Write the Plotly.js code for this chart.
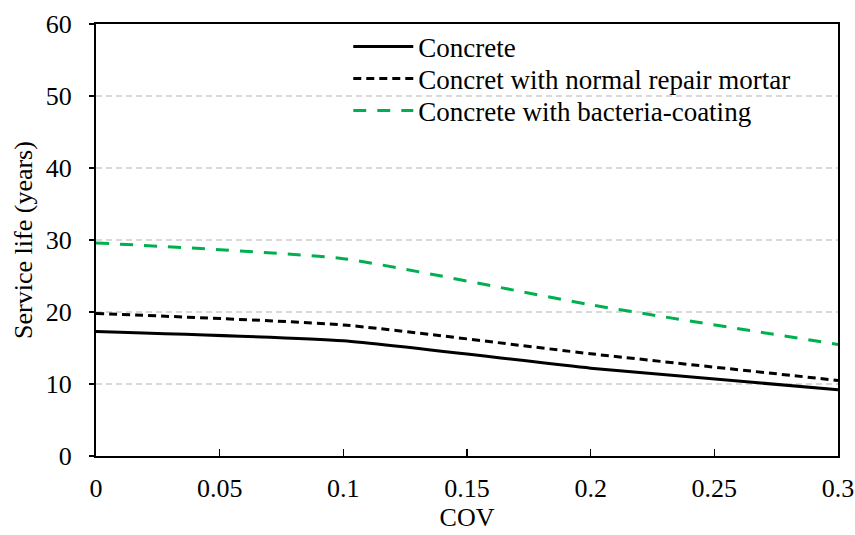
<!DOCTYPE html>
<html>
<head>
<meta charset="utf-8">
<script src="https://cdn.plot.ly/plotly-3.0.1.min.js"></script>
<style>html,body{margin:0;padding:0;background:#fff;}#chart{width:855px;height:535px;}</style>
</head>
<body>
<div id="chart"></div>
<script>
const cov = [0, 0.1, 0.2, 0.3];
const concrete = [17.3, 16.0, 12.2, 9.2];
const normalRepair = [19.8, 18.2, 14.2, 10.5];
const bacteriaCoating = [29.6, 27.4, 21.0, 15.5];
const seriesNames = ["Concrete", "Concret with normal repair mortar", "Concrete with bacteria-coating"];

const font = "'Liberation Serif', 'Times New Roman', serif";
const traces = [
  {x: cov, y: concrete, name: seriesNames[0], mode: "lines", legend: "legend",
   line: {color: "#000000", width: 3, shape: "spline", smoothing: 0.5}},
  {x: cov, y: normalRepair, name: seriesNames[1], mode: "lines", legend: "legend2",
   line: {color: "#000000", width: 3, dash: "8px,5px", shape: "spline", smoothing: 0.5}},
  {x: cov, y: bacteriaCoating, name: seriesNames[2], mode: "lines", legend: "legend3",
   line: {color: "#00B050", width: 3, dash: "13px,11px", shape: "spline", smoothing: 0.5}}
];
function leg(y) {
  return {x: 0.34, y: y, xanchor: "left", yanchor: "middle", bgcolor: "rgba(0,0,0,0)",
          font: {family: font, size: 27, color: "#000"}, itemwidth: 60};
}
const layout = {
  width: 855, height: 535,
  margin: {l: 96, r: 17, t: 24, b: 79},
  paper_bgcolor: "#fff", plot_bgcolor: "#fff",
  font: {family: font, size: 26, color: "#000"},
  showlegend: true,
  legend: leg(0.9468),
  legend2: leg(0.8727),
  legend3: leg(0.7986),
  xaxis: {
    range: [0, 0.3], dtick: 0.05, tick0: 0,
    showline: true, linecolor: "#000", linewidth: 2, mirror: true,
    ticks: "inside", ticklen: 7, tickcolor: "#000", tickwidth: 1.5,
    showgrid: false, zeroline: false,
    tickfont: {family: font, size: 26, color: "#000"},
    ticklabelstandoff: 8,
    title: {text: "COV", font: {family: font, size: 26, color: "#000"}, standoff: 4}
  },
  yaxis: {
    range: [0, 60], dtick: 10, tick0: 0,
    showline: true, linecolor: "#000", linewidth: 2, mirror: true,
    ticks: "outside", ticklen: 5, tickcolor: "#000", tickwidth: 1.5,
    showgrid: true, gridcolor: "#d9d9d9", griddash: "6px,4px", gridwidth: 1.3,
    zeroline: false,
    tickfont: {family: font, size: 26, color: "#000"},
    ticklabelstandoff: 12,
    title: {text: "Service life (years)", font: {family: font, size: 26, color: "#000"}, standoff: 6}
  }
};
Plotly.newPlot("chart", traces, layout, {displayModeBar: false, staticPlot: true});
</script>
</body>
</html>
